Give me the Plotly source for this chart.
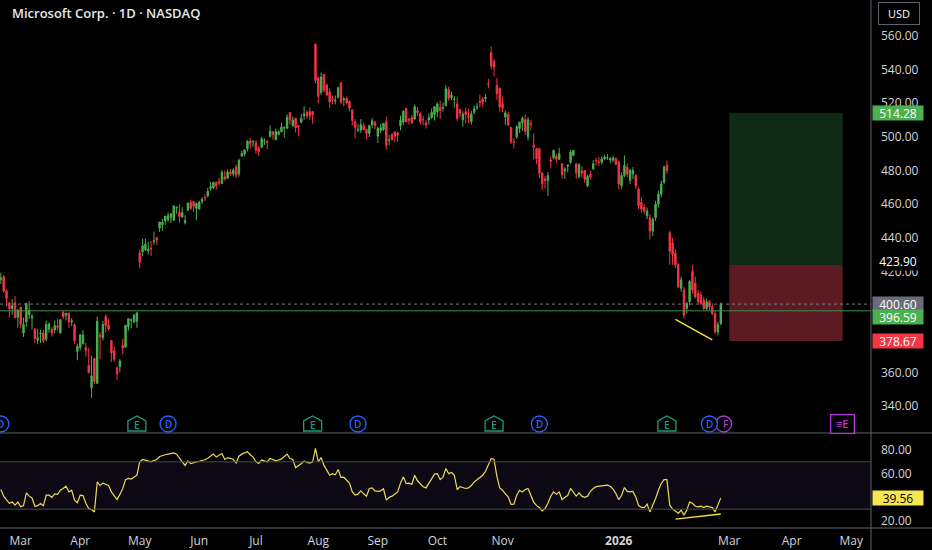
import pandas as pd
import plotly.graph_objects as go

FONT = "Open Sans"

# trading calendar (NYSE holidays removed), one bar per session
holidays = ["2025-04-18", "2025-05-26", "2025-06-19", "2025-07-04", "2025-09-01",
            "2025-11-27", "2025-12-25", "2026-01-01", "2026-01-19", "2026-02-16",
            "2026-04-03", "2026-05-25"]
calendar = pd.bdate_range("2025-02-20", "2026-06-30", freq="C", holidays=holidays)
day_index = {d.strftime("%Y-%m-%d"): i for i, d in enumerate(calendar)}

# MSFT daily OHLC, Feb 20 2025 -> Feb 25 2026 (one line per month)
opens = [
    415.3, 416.9, 408.5, 401.3, 398.0, 401.3, 392.7,
    398.8, 383.4, 389.9, 394.3, 392.3, 385.8, 379.0, 382.9, 383.2, 379.8, 385.6, 385.4, 385.2, 387.6, 383.4, 395.6, 394.0, 395.3, 390.0, 388.2, 372.5,
    374.7, 377.0, 374.8, 364.1, 350.8, 368.3, 353.5, 382.1, 380.6, 393.2, 388.1, 378.9, 372.9, 362.8, 363.4, 376.1, 375.0, 387.3, 391.0, 390.0, 390.3,
    431.1, 431.7, 432.9, 432.2, 433.8, 437.9, 440.0, 445.9, 447.8, 450.1, 450.8, 452.1, 450.4, 457.9, 455.2, 452.4, 449.0, 456.4, 461.2, 461.6, 457.5,
    457.1, 461.5, 464.0, 464.9, 469.4, 469.7, 473.0, 473.4, 472.3, 476.2, 475.4, 478.9, 478.1, 482.1, 478.0, 488.6, 489.7, 492.9, 497.6, 497.0,
    496.5, 493.2, 493.8, 497.4, 497.2, 500.3, 503.0, 498.5, 501.5, 503.0, 505.2, 505.2, 514.5, 506.7, 511.0, 506.7, 508.8, 512.5, 514.7, 515.1, 515.0, 555.2,
    535.0, 526.5, 537.2, 530.9, 526.8, 522.6, 521.4, 523.8, 532.1, 522.1, 522.9, 521.0, 516.0, 509.0, 504.0, 504.1, 506.6, 504.4, 502.0, 507.1, 508.7,
    500.5, 503.8, 504.3, 509.1, 498.1, 501.4, 502.9, 502.3, 506.6, 508.8, 516.9, 510.6, 511.5, 510.6, 515.6, 513.8, 510.4, 508.3, 510.1, 511.5, 513.2,
    514.8, 517.6, 517.1, 518.6, 528.3, 523.3, 522.3, 519.6, 516.4, 510.2, 515.0, 512.6, 509.0, 514.6, 517.5, 521.2, 522.5, 522.8, 531.8, 550.0, 544.9, 530.5, 528.9,
    519.8, 511.8, 513.3, 505.7, 496.9, 500.0, 505.0, 508.3, 510.3, 500.0, 508.0, 495.1, 493.1, 493.0, 478.5, 475.0, 474.1, 486.3, 487.6,
    488.4, 486.7, 484.0, 479.8, 482.5, 484.9, 489.1, 484.0, 476.5, 479.8, 480.0, 470.8, 477.8, 481.0, 486.0, 485.0, 484.9, 486.9, 487.6, 486.3, 486.2, 487.2,
    485.0, 471.0, 477.0, 482.0, 474.0, 478.0, 477.0, 469.0, 461.0, 458.0, 453.0, 452.0, 444.0, 452.0, 460.0, 466.0, 473.0, 483.0, 443.0, 437.0,
    431.0, 424.0, 410.0, 409.0, 398.0, 402.0, 420.0, 413.0, 407.0, 406.0, 403.0, 398.0, 402.0, 399.0, 395.0, 384.0, 389.0,
]
highs = [
    419.3, 418.0, 409.4, 401.9, 403.6, 405.3, 397.6,
    398.8, 392.5, 401.4, 402.2, 394.8, 386.4, 386.0, 385.2, 385.3, 390.8, 389.7, 386.8, 391.0, 392.0, 391.8, 397.0, 395.3, 395.3, 392.2, 389.1, 377.1,
    382.9, 385.1, 377.5, 374.6, 370.0, 368.7, 393.2, 383.9, 390.6, 394.6, 391.9, 378.9, 375.4, 363.5, 367.8, 379.9, 388.1, 392.0, 392.1, 394.7, 396.0,
    433.0, 439.4, 439.5, 437.7, 438.1, 443.7, 440.7, 449.4, 451.2, 453.0, 455.0, 454.4, 459.6, 458.6, 460.0, 458.2, 453.4, 460.9, 462.5, 461.7, 461.0,
    462.1, 464.1, 465.7, 469.6, 473.3, 473.4, 473.5, 475.7, 480.4, 480.0, 480.7, 481.0, 481.4, 483.5, 487.0, 491.9, 492.3, 498.0, 499.3, 498.0,
    498.0, 494.7, 500.1, 499.2, 498.1, 506.8, 503.2, 505.0, 504.0, 508.3, 506.2, 513.4, 514.6, 512.1, 511.3, 507.1, 513.7, 518.3, 515.8, 517.6, 515.5, 555.5,
    536.0, 538.3, 537.3, 531.7, 528.9, 524.7, 524.6, 530.0, 532.7, 524.0, 524.0, 521.7, 516.5, 510.6, 507.6, 510.6, 508.2, 505.0, 507.3, 511.1, 509.6,
    506.0, 507.8, 508.2, 512.0, 501.2, 502.2, 503.2, 503.2, 512.6, 515.5, 517.2, 511.3, 513.1, 519.3, 517.7, 514.6, 512.5, 510.0, 513.9, 516.9, 518.2,
    520.5, 521.6, 520.5, 531.0, 529.8, 526.9, 524.3, 523.6, 516.4, 515.3, 517.2, 516.9, 515.5, 518.7, 520.2, 525.2, 523.8, 525.4, 534.6, 553.7, 546.3, 535.0, 529.3,
    524.0, 515.6, 514.8, 505.7, 499.4, 506.8, 509.0, 512.1, 513.5, 511.7, 510.0, 502.1, 493.6, 493.6, 478.9, 476.9, 479.1, 488.3, 492.3,
    489.9, 493.5, 484.5, 482.0, 483.4, 492.3, 492.1, 484.3, 484.3, 482.5, 480.3, 477.5, 480.0, 486.2, 487.7, 488.0, 488.6, 489.2, 489.8, 488.1, 489.0, 487.9,
    486.0, 479.0, 489.0, 484.0, 481.0, 482.0, 478.0, 470.0, 464.0, 460.0, 458.0, 454.0, 452.0, 462.0, 468.0, 474.0, 483.0, 486.0, 444.0, 440.0,
    433.0, 425.0, 417.0, 411.0, 402.0, 415.0, 424.0, 417.0, 409.0, 408.0, 405.0, 404.0, 403.0, 401.0, 397.0, 390.0, 401.5,
]
lows = [
    412.5, 407.6, 399.3, 392.5, 394.3, 392.3, 386.6,
    386.2, 381.0, 387.0, 391.8, 385.5, 377.2, 376.9, 377.5, 377.5, 378.4, 383.6, 381.3, 383.3, 384.8, 383.0, 391.6, 391.0, 386.5, 387.4, 376.9, 367.2,
    373.0, 376.6, 369.4, 359.5, 344.8, 353.1, 353.1, 367.8, 378.9, 383.8, 384.8, 366.2, 366.3, 355.6, 359.9, 370.9, 375.0, 384.8, 386.2, 389.2, 386.5,
    421.8, 429.0, 432.1, 430.0, 429.3, 435.7, 435.9, 443.5, 444.3, 447.6, 449.3, 448.7, 450.4, 454.3, 449.0, 451.9, 448.0, 456.0, 456.9, 455.3, 450.6,
    456.9, 460.0, 461.9, 464.0, 468.1, 469.0, 468.7, 471.3, 472.3, 473.9, 475.2, 477.0, 476.4, 475.7, 476.3, 488.2, 488.4, 491.4, 493.0, 494.1,
    490.0, 488.7, 493.4, 495.2, 492.6, 499.7, 498.3, 497.8, 501.0, 502.8, 499.5, 504.7, 507.3, 506.0, 502.6, 500.7, 507.9, 510.2, 510.6, 510.0, 507.8, 531.9,
    520.1, 524.9, 526.4, 524.0, 517.2, 519.4, 519.3, 522.7, 519.3, 518.2, 519.3, 515.1, 506.7, 499.2, 502.8, 502.4, 503.8, 498.5, 499.9, 505.1, 504.5,
    496.4, 502.3, 503.6, 492.4, 495.0, 497.7, 496.7, 497.1, 503.9, 507.0, 508.6, 507.3, 507.7, 510.3, 512.5, 507.3, 506.9, 505.0, 507.3, 510.7, 509.7,
    511.7, 510.7, 515.0, 518.2, 521.4, 521.9, 517.4, 509.5, 511.7, 506.0, 508.1, 508.1, 507.3, 513.4, 516.0, 517.7, 518.2, 520.7, 529.1, 540.2, 536.1, 522.1, 515.0,
    514.6, 507.1, 506.6, 495.8, 493.0, 498.8, 502.4, 503.5, 501.3, 497.9, 504.0, 486.6, 484.0, 475.5, 468.3, 469.2, 464.9, 481.2, 486.6,
    484.7, 486.3, 475.2, 475.0, 478.9, 484.0, 488.5, 475.1, 475.3, 475.8, 472.8, 470.3, 474.8, 480.4, 482.9, 482.8, 483.6, 486.2, 486.3, 484.5, 484.9, 483.2,
    469.0, 469.0, 476.0, 476.0, 472.0, 475.0, 469.0, 457.0, 455.0, 454.0, 451.0, 439.0, 441.0, 450.0, 458.0, 464.0, 472.0, 478.0, 424.0, 424.0,
    422.0, 410.0, 408.0, 392.0, 395.0, 400.0, 407.0, 404.0, 401.0, 400.0, 397.0, 397.0, 397.0, 394.0, 383.0, 382.0, 388.0,
]
closes = [
    416.1, 408.2, 404.0, 397.9, 399.7, 392.5, 397.0,
    388.6, 388.6, 401.0, 396.9, 393.3, 380.2, 380.5, 383.3, 378.8, 388.6, 388.7, 383.5, 387.8, 386.8, 391.3, 393.1, 395.2, 390.0, 390.6, 378.8, 375.4,
    382.2, 382.1, 373.1, 359.8, 357.9, 354.6, 390.5, 381.4, 388.5, 387.8, 385.7, 371.6, 367.8, 359.1, 366.8, 374.4, 388.0, 391.9, 391.2, 394.0, 395.3,
    425.4, 435.3, 436.2, 433.3, 433.4, 438.2, 438.7, 449.4, 449.1, 452.9, 453.1, 454.3, 458.9, 458.2, 452.6, 454.9, 450.2, 460.7, 457.4, 458.7, 460.4,
    461.0, 463.0, 463.9, 467.7, 470.4, 472.8, 470.9, 472.6, 478.9, 475.0, 479.1, 478.0, 480.2, 477.4, 486.0, 490.1, 492.3, 497.5, 495.9, 497.4,
    492.1, 491.1, 498.8, 497.7, 496.6, 503.5, 501.5, 503.3, 503.0, 505.8, 505.6, 511.7, 510.1, 510.1, 505.3, 505.9, 510.9, 513.7, 512.5, 512.6, 513.2, 533.5,
    524.1, 535.6, 527.8, 524.9, 520.8, 522.0, 521.8, 529.2, 520.6, 522.5, 520.2, 517.1, 509.8, 505.7, 504.2, 507.2, 504.3, 502.0, 506.7, 509.6, 506.7,
    505.1, 505.4, 508.0, 495.0, 498.2, 498.4, 500.4, 501.0, 509.9, 515.4, 509.0, 510.0, 508.5, 517.9, 514.5, 509.2, 510.2, 507.0, 511.5, 514.6, 518.0,
    519.7, 515.7, 517.4, 528.6, 523.0, 524.9, 522.4, 511.0, 514.1, 513.6, 513.4, 511.6, 513.6, 516.8, 517.7, 520.5, 520.6, 523.6, 531.5, 542.1, 541.6, 525.8, 517.8,
    517.0, 514.3, 507.2, 497.1, 496.8, 506.0, 508.7, 511.1, 503.3, 510.2, 507.5, 493.8, 487.1, 478.4, 472.1, 474.0, 477.0, 485.5, 492.0,
    486.7, 490.0, 477.7, 480.8, 483.2, 491.0, 492.0, 478.6, 483.5, 478.5, 474.8, 476.4, 476.1, 484.0, 485.9, 484.9, 486.9, 488.0, 487.7, 487.1, 487.5, 483.6,
    472.0, 477.0, 483.0, 478.0, 480.0, 480.0, 471.0, 459.0, 457.0, 456.0, 456.0, 444.0, 451.0, 460.0, 466.0, 472.0, 482.0, 480.0, 432.0, 430.0,
    424.0, 411.0, 415.0, 394.0, 401.0, 414.0, 409.0, 405.0, 402.0, 401.0, 398.0, 402.0, 399.0, 395.0, 384.0, 388.5, 400.6,
]

rsi = [
    46.6, 41.0, 37.8, 35.0, 36.0, 33.4, 36.0,
    32, 33, 43.8, 41, 39.5, 32.5, 33, 34.8, 33, 41.8, 41.8, 40, 43, 42.5, 46, 47.5, 49.4, 44.6, 46, 37.6, 35.5,
    41.8, 41.5, 35, 30.6, 29.5, 27.7, 53, 50, 52, 51, 50, 44.6, 41, 38, 42.5, 47.5, 55, 56, 55.5, 56.8, 58.7,
    70, 72, 71.5, 70.5, 70, 71, 72, 74.5, 75.6, 76, 76.5, 77, 77.6, 76.5, 72.8, 70, 67, 70.8, 68.6, 69.5, 70,
    70.5, 71, 71.8, 73, 74.5, 76.5, 74, 75.5, 77, 72, 73.4, 73, 72, 69, 74.8, 76.5, 77.5, 78.5, 76, 74,
    70, 68.6, 71.5, 71, 70, 72.8, 71.5, 70.8, 71.5, 72.5, 74.5, 76.5, 72.8, 72, 65, 66.5, 68.6, 70.8, 69.5, 69, 70, 81.3,
    70, 73.7, 67, 63, 58.7, 60, 59, 63.5, 56.8, 57, 54.5, 52, 44.6, 42, 42.7, 45.5, 43, 41, 47.5, 48, 45.5,
    45, 45.5, 47.2, 37.6, 40, 41, 42.5, 44.6, 52, 57.3, 51.7, 52, 51, 58.7, 54, 51.7, 49, 48, 52, 56, 59.6,
    60, 55, 57, 64.4, 60, 61, 58.7, 46.6, 49, 48, 47.5, 48, 50, 53, 55, 57.3, 58.7, 62, 68, 72.8, 72, 58, 48,
    46, 43, 40.4, 34, 34.2, 41.8, 46, 44.6, 46.6, 47.5, 41.8, 36, 33, 31.4, 28.6, 30.5, 35, 41, 44.6,
    42.7, 44.6, 38, 40, 41.5, 47.5, 44, 41, 43.8, 41, 40, 41, 45, 47.5, 49, 49.3, 49.7, 50, 50.3, 49.4, 47, 43.2,
    38, 41.8, 48.3, 45, 44.6, 45, 40.4, 33, 31.5, 31.4, 34.2, 27.7, 33, 39, 46, 51.7, 55, 55, 33.4, 30,
    28.5, 26.5, 29.2, 25, 29.2, 36, 35, 32.5, 32, 32.5, 31.4, 32.5, 32, 31.4, 27.7, 33.4, 39.56,
]

# axis ticks (levels hidden behind the price tags are left out)
price_ticks = [340, 360, 420, 440, 460, 480, 500, 520, 540, 560]
rsi_ticks = [20, 60, 80]
tick_months = ["2025-03", "2025-04", "2025-05", "2025-06", "2025-07", "2025-08", "2025-09",
               "2025-10", "2025-11", "2026-01", "2026-03", "2026-04", "2026-05"]
tick_labels = ["Mar", "Apr", "May", "Jun", "Jul", "Aug", "Sep", "Oct", "Nov", "<b>2026</b>",
               "Mar", "Apr", "May"]

# long position tool + price levels
entry_price = 423.90
target_price = 514.28
stop_price = 378.67
last_price = 396.59
prev_price = 400.60
rsi_last = 39.56
position_start = "2026-03-02"
position_end = "2026-04-28"

# divergence drawings (date, value)
price_div = [("2026-02-02", 391.5), ("2026-02-20", 379.3)]
rsi_div = [("2026-02-02", 21.6), ("2026-02-25", 26.0)]

# events row
earnings_dates = ["2025-04-30", "2025-07-30", "2025-10-29", "2026-01-28"]
dividend_dates = ["2025-02-20", "2025-05-15", "2025-08-21", "2025-11-20", "2026-02-19"]
split_dates = ["2026-02-26"]
next_earnings = "2026-04-28"

UP = "#4caf50"
DOWN = "#f23645"
TXT = "#d1d4dc"
SEP = "#5d606b"

n = min(len(opens), len(highs), len(lows), len(closes))
bars = list(range(n))
months = list(calendar.strftime("%Y-%m"))
tick_vals = [months.index(m) for m in tick_months]

fig = go.Figure()
fig.add_trace(go.Candlestick(
    x=bars, open=opens[:n], high=highs[:n], low=lows[:n], close=closes[:n],
    increasing=dict(line=dict(color=UP, width=1), fillcolor=UP),
    decreasing=dict(line=dict(color=DOWN, width=1), fillcolor=DOWN),
    whiskerwidth=0, showlegend=False, hoverinfo="skip"))
fig.add_trace(go.Scatter(
    x=list(range(len(rsi))), y=rsi, yaxis="y2", mode="lines",
    line=dict(color="#eadb55", width=1.2), showlegend=False, hoverinfo="skip"))

shapes = []
# long position box
p0, p1 = day_index[position_start], day_index[position_end]
shapes.append(dict(type="rect", xref="x", yref="y", x0=p0, x1=p1, y0=entry_price, y1=target_price,
                   fillcolor="#0f2a16", line=dict(width=0), layer="below"))
shapes.append(dict(type="rect", xref="x", yref="y", x0=p0, x1=p1, y0=stop_price, y1=entry_price,
                   fillcolor="#5c1a22", line=dict(width=0), layer="below"))
# price lines
shapes.append(dict(type="line", xref="paper", yref="y", x0=0, x1=1, y0=prev_price, y1=prev_price,
                   line=dict(color="#787b86", width=1, dash="dot")))
shapes.append(dict(type="line", xref="paper", yref="y", x0=0, x1=1, y0=last_price, y1=last_price,
                   line=dict(color="#3f8f45", width=1)))
# RSI band
shapes.append(dict(type="rect", xref="paper", yref="y2", x0=0, x1=1, y0=30, y1=70,
                   fillcolor="rgba(126,87,194,0.10)", line=dict(width=0), layer="below"))
for lvl in (30, 70):
    shapes.append(dict(type="line", xref="paper", yref="y2", x0=0, x1=1, y0=lvl, y1=lvl,
                       line=dict(color="#4a4a52", width=1)))
# divergences
shapes.append(dict(type="line", xref="x", yref="y",
                   x0=day_index[price_div[0][0]], y0=price_div[0][1],
                   x1=day_index[price_div[1][0]], y1=price_div[1][1],
                   line=dict(color="#f5e13b", width=1.5)))
shapes.append(dict(type="line", xref="x", yref="y2",
                   x0=day_index[rsi_div[0][0]], y0=rsi_div[0][1],
                   x1=day_index[rsi_div[1][0]], y1=rsi_div[1][1],
                   line=dict(color="#f5e13b", width=1.5)))
# pane separators
shapes.append(dict(type="line", xref="paper", yref="paper", x0=0, x1=932 / 871, y0=0.18, y1=0.18,
                   line=dict(color=SEP, width=1)))
shapes.append(dict(type="line", xref="paper", yref="paper", x0=0, x1=932 / 871, y0=0, y1=0,
                   line=dict(color=SEP, width=1)))
shapes.append(dict(type="line", xref="paper", yref="paper", x0=1, x1=1, y0=-22 / 528, y1=1,
                   line=dict(color=SEP, width=1)))

annotations = []
EV_Y = 0.197
E_PATH = "M-9,-7 L9,-7 L9,3 L0,8 L-9,3 Z"


def badge_text(d, text, color, dx=0, dy=0):
    return dict(x=day_index[d], xref="x", y=EV_Y, yref="paper", xanchor="center", yanchor="middle",
                xshift=dx, yshift=dy, text=text, showarrow=False,
                font=dict(color=color, size=10, family=FONT, weight=600))


for d in split_dates:
    shapes.append(dict(type="circle", xref="x", xsizemode="pixel", xanchor=day_index[d], x0=-8, x1=8,
                       yref="paper", ysizemode="pixel", yanchor=EV_Y, y0=-8, y1=8,
                       fillcolor="black", line=dict(color="#b23bd6", width=1.3)))
    annotations.append(badge_text(d, "F", "#b23bd6", dx=2))
for d in earnings_dates:
    shapes.append(dict(type="path", xref="x", xsizemode="pixel", xanchor=day_index[d],
                       yref="paper", ysizemode="pixel", yanchor=EV_Y, path=E_PATH,
                       fillcolor="black", line=dict(color="#1e9c80", width=1.3)))
    annotations.append(badge_text(d, "E", "#1e9c80", dy=-1))
for d in dividend_dates:
    shapes.append(dict(type="circle", xref="x", xsizemode="pixel", xanchor=day_index[d], x0=-8, x1=8,
                       yref="paper", ysizemode="pixel", yanchor=EV_Y, y0=-8, y1=8,
                       fillcolor="black", line=dict(color="#2962ff", width=1.3)))
    annotations.append(badge_text(d, "D", "#2962ff"))
annotations.append(dict(x=day_index[next_earnings], xref="x", y=EV_Y, yref="paper",
                        xanchor="center", yanchor="middle", text="≡E", showarrow=False,
                        bordercolor="#b23bd6", borderwidth=1.3, borderpad=2, width=18, height=13,
                        bgcolor="black", font=dict(color="#b23bd6", size=11, family=FONT, weight=600)))


def tag(value, text, bg, fg, yref="y", shift=0, h=14):
    return dict(xref="paper", x=1, xanchor="left", xshift=1, yref=yref, y=value, yanchor="middle",
                yshift=shift, text=text, showarrow=False, bgcolor=bg, width=50, height=h,
                borderpad=0, align="center", font=dict(color=fg, size=12, family=FONT))


annotations += [
    tag(target_price, f"{target_price:.2f}", UP, "white"),
    tag(entry_price, f"{entry_price:.2f}", "black", "white", shift=3, h=17),
    tag(prev_price, f"{prev_price:.2f}", "#6a6d78", "white"),
    tag(last_price, f"{last_price:.2f}", UP, "white", shift=-6),
    tag(stop_price, f"{stop_price:.2f}", DOWN, "white"),
    tag(rsi_last, f"{rsi_last:.2f}", "#f7e64f", "black", yref="y2"),
]
annotations.append(dict(xref="paper", x=899 / 871, xanchor="center", yref="paper", y=(528 - 13) / 528,
                        yanchor="middle", text="USD", showarrow=False, bordercolor="#5d606b",
                        borderwidth=1, borderpad=3, bgcolor="black", width=34,
                        font=dict(color="white", size=11, family=FONT)))
annotations.append(dict(xref="paper", x=0.011, xanchor="left", yref="paper", y=(528 - 13) / 528,
                        yanchor="middle", text="Microsoft Corp. · 1D · NASDAQ", showarrow=False,
                        font=dict(color="#e6e8ee", size=13, family=FONT, weight=600)))

fig.update_layout(
    width=932, height=550,
    margin=dict(l=0, r=61, t=0, b=22),
    paper_bgcolor="black", plot_bgcolor="black",
    showlegend=False, hovermode=False,
    shapes=shapes, annotations=annotations,
    font=dict(family=FONT, color=TXT, size=12),
    xaxis=dict(range=[-0.3, 307.0], anchor="y2", tickvals=tick_vals, ticktext=tick_labels,
               showgrid=False, zeroline=False, showline=False, ticks="",
               ticklabelstandoff=4, tickfont=dict(size=12, color=TXT),
               rangeslider=dict(visible=False)),
    yaxis=dict(domain=[0.18, 1], range=[323.97, 581.4], side="right", anchor="x",
               tickvals=price_ticks, ticktext=[f"{v:.2f}" for v in price_ticks],
               showgrid=False, zeroline=False, showline=False, ticks="",
               ticklabelstandoff=9, tickfont=dict(size=12, color=TXT)),
    yaxis2=dict(domain=[0, 0.178], range=[14.1, 93.5], side="right", anchor="x",
                tickvals=rsi_ticks, ticktext=[f"{v:.2f}" for v in rsi_ticks],
                showgrid=False, zeroline=False, showline=False, ticks="",
                ticklabelstandoff=9, tickfont=dict(size=12, color=TXT)),
)

fig.write_html("out.html", config={"displayModeBar": False},
               post_script="document.body.style.margin='0';document.body.style.background='black';")
